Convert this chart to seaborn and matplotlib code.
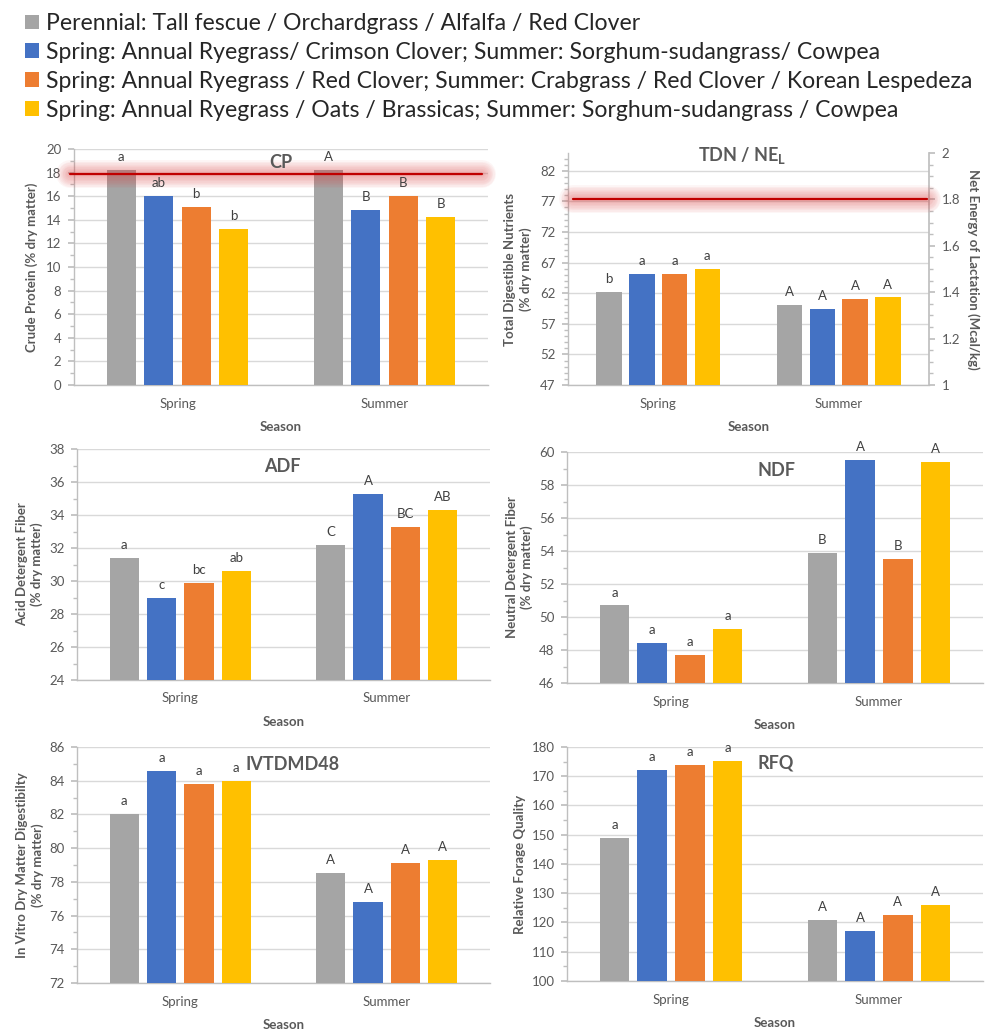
import numpy as np
import pandas as pd
import seaborn as sns
import matplotlib.pyplot as plt
from matplotlib.patches import Patch
from matplotlib.ticker import MultipleLocator, FixedLocator
import matplotlib.transforms as mtransforms

# ---------------- data ----------------
seasons = ["Spring", "Summer"]
mixtures = [
    "Perennial: Tall fescue / Orchardgrass / Alfalfa / Red Clover",
    "Spring: Annual Ryegrass/ Crimson Clover; Summer: Sorghum-sudangrass/ Cowpea",
    "Spring: Annual Ryegrass / Red Clover; Summer: Crabgrass / Red Clover / Korean Lespedeza",
    "Spring: Annual Ryegrass / Oats / Brassicas; Summer: Sorghum-sudangrass / Cowpea",
]
colors = ["#A5A5A5", "#4472C4", "#ED7D31", "#FFC000"]

cp_spring = [18.2, 16.0, 15.1, 13.2]
cp_summer = [18.2, 14.8, 16.0, 14.2]
cp_letters_spring = ["a", "ab", "b", "b"]
cp_letters_summer = ["A", "B", "B", "B"]
cp_target = 17.9

tdn_spring = [62.2, 65.2, 65.2, 65.9]
tdn_summer = [60.1, 59.4, 61.0, 61.3]
tdn_letters_spring = ["b", "a", "a", "a"]
tdn_letters_summer = ["A", "A", "A", "A"]
tdn_ticks = [47, 52, 57, 62, 67, 72, 77, 82]
nel_target = 1.8

adf_spring = [31.4, 29.0, 29.9, 30.6]
adf_summer = [32.2, 35.3, 33.3, 34.3]
adf_letters_spring = ["a", "c", "bc", "ab"]
adf_letters_summer = ["C", "A", "BC", "AB"]

ndf_spring = [50.7, 48.4, 47.7, 49.3]
ndf_summer = [53.9, 59.5, 53.5, 59.4]
ndf_letters_spring = ["a", "a", "a", "a"]
ndf_letters_summer = ["B", "A", "B", "A"]

ivd_spring = [82.0, 84.6, 83.8, 84.0]
ivd_summer = [78.5, 76.8, 79.1, 79.3]
ivd_letters_spring = ["a", "a", "a", "a"]
ivd_letters_summer = ["A", "A", "A", "A"]

rfq_spring = [148.9, 172.3, 173.8, 175.3]
rfq_summer = [121.0, 117.2, 122.6, 126.0]
rfq_letters_spring = ["a", "a", "a", "a"]
rfq_letters_summer = ["A", "A", "A", "A"]

# ---------------- style ----------------
sns.set_theme(style="white")
plt.rcParams["font.family"] = ["Lato", "DejaVu Sans"]
plt.rcParams["mathtext.fontset"] = "custom"
plt.rcParams["mathtext.rm"] = "Lato"
plt.rcParams["mathtext.bf"] = "Lato:bold"

TEXT = "#595959"
GRID = "#D9D9D9"
AXIS = "#BFBFBF"

W, H = 987, 1029
fig = plt.figure(figsize=(W / 100, H / 100), dpi=100)
fig.patch.set_facecolor("white")


def px_rect(x0, y0, x1, y1):
    return [x0 / W, 1 - y1 / H, (x1 - x0) / W, (y1 - y0) / H]


def glow_line(ax, y, x0, x1):
    """Target line with a soft red halo."""
    trans = mtransforms.blended_transform_factory(ax.transAxes, ax.transData)
    for lw in np.arange(20, 1, -2):
        ax.plot([x0, x1], [y, y], transform=trans, color="#E04040", lw=lw,
                alpha=0.05, solid_capstyle="round", clip_on=False, zorder=5)
    ax.plot([x0, x1], [y, y], transform=trans, color="#C00000", lw=1.6,
            clip_on=False, zorder=6)


def panel(box, spring, summer, let_sp, let_su, ylim, major, minor, ylabel,
          title, title_xy, title_size=13):
    ax = fig.add_axes(px_rect(*box))
    df = pd.DataFrame({
        "Season": np.repeat(seasons, len(mixtures)),
        "Mixture": mixtures * 2,
        "Value": list(spring) + list(summer),
    })
    sns.barplot(data=df, x="Season", y="Value", hue="Mixture",
                hue_order=mixtures, palette=colors, width=0.725, gap=0.22,
                saturation=1, errorbar=None, legend=False, ax=ax,
                edgecolor="none", zorder=3)
    ax.set_xlim(-0.5, 1.5)
    ax.set_ylim(*ylim)
    if np.ndim(major):
        ax.yaxis.set_major_locator(FixedLocator(major))
    else:
        ax.yaxis.set_major_locator(MultipleLocator(major))
    ax.yaxis.set_minor_locator(MultipleLocator(minor))
    ax.grid(axis="y", which="major", color=GRID, lw=1, zorder=0)
    ax.set_axisbelow(True)
    for s in ["top", "right"]:
        ax.spines[s].set_visible(False)
    ax.spines["left"].set_color(AXIS)
    ax.spines["bottom"].set_color(AXIS)
    ax.spines["left"].set_linewidth(1)
    ax.spines["bottom"].set_linewidth(1)
    ax.tick_params(axis="y", which="both", direction="out", color=AXIS,
                   labelcolor=TEXT, labelsize=9.5, left=True)
    ax.tick_params(axis="y", which="major", length=4, pad=5)
    ax.tick_params(axis="y", which="minor", length=3)
    ax.tick_params(axis="x", length=0, labelcolor=TEXT, labelsize=9.5, pad=9)
    ax.set_xlabel("Season", fontsize=9.5, fontweight="bold", color=TEXT,
                  labelpad=8)
    ax.set_ylabel(ylabel, fontsize=9.5, fontweight="bold", color=TEXT,
                  linespacing=1.25)
    for cont, a, b in zip(ax.containers, let_sp, let_su):
        ax.bar_label(cont, labels=[a, b], padding=5, fontsize=9.5,
                     color="#404040", zorder=7)
    fig.text(title_xy[0] / W, 1 - title_xy[1] / H, title, ha="center",
             va="center", fontsize=title_size, fontweight="bold", color=TEXT)
    return ax


# Crude protein
ax_cp = panel((74, 149, 488, 385), cp_spring, cp_summer, cp_letters_spring,
              cp_letters_summer, (0, 20), 2, 1,
              "Crude Protein (% dry matter)", "CP", (281, 163))
ax_cp.yaxis.labelpad = 6
glow_line(ax_cp, cp_target, -0.01, 0.985)

# TDN / NEL with secondary axis
ax_tdn = panel((568, 153, 929, 385), tdn_spring, tdn_summer,
               tdn_letters_spring, tdn_letters_summer, (47, 84.9), tdn_ticks,
               1, "Total Digestible Nutrients\n(% dry matter)",
               "TDN / NE$_\\mathbf{L}$", (742, 155))
ax_tdn.yaxis.labelpad = 6
ax_ne = ax_tdn.twinx()
ax_ne.set_ylim(1, 2)
ax_ne.yaxis.set_major_locator(MultipleLocator(0.2))
ax_ne.yaxis.set_minor_locator(MultipleLocator(0.05))
for s in ["top", "left", "bottom"]:
    ax_ne.spines[s].set_visible(False)
ax_ne.spines["right"].set_color(AXIS)
ax_ne.tick_params(axis="y", which="both", direction="out", color=AXIS,
                  labelcolor=TEXT, labelsize=9.5, right=True)
ax_ne.tick_params(axis="y", which="major", length=4, pad=5)
ax_ne.tick_params(axis="y", which="minor", length=3)
ax_ne.yaxis.set_major_formatter(plt.FuncFormatter(lambda v, p: f"{v:g}"))
ax_ne.set_ylabel("Net Energy of Lactation (Mcal/kg)", rotation=270,
                 fontsize=9.5, fontweight="bold", color=TEXT, labelpad=14)
glow_line(ax_ne, nel_target, 0.015, 0.995)

# ADF
ax_adf = panel((77, 449, 490, 680), adf_spring, adf_summer,
               adf_letters_spring, adf_letters_summer, (24, 38), 2, 1,
               "Acid Detergent Fiber\n(% dry matter)", "ADF", (282, 467))

# NDF
ax_ndf = panel((567, 452, 983, 683), ndf_spring, ndf_summer,
               ndf_letters_spring, ndf_letters_summer, (46, 60), 2, 1,
               "Neutral Detergent Fiber\n(% dry matter)", "NDF", (777, 470))

# IVTDMD48
ax_ivd = panel((77, 747, 490, 983), ivd_spring, ivd_summer,
               ivd_letters_spring, ivd_letters_summer, (72, 86), 2, 1,
               "In Vitro Dry Matter Digestibilty\n(% dry matter)",
               "IVTDMD48", (293, 765))

# RFQ
ax_rfq = panel((567, 747, 983, 981), rfq_spring, rfq_summer,
               rfq_letters_spring, rfq_letters_summer, (100, 180), 10, 5,
               "Relative Forage Quality", "RFQ", (776, 763))

# shared legend
handles = [Patch(facecolor=c, edgecolor="none") for c in colors]
fig.legend(handles, mixtures, loc="upper left",
           bbox_to_anchor=(25 / W, 1 - 13 / H), frameon=False, fontsize=16.6,
           handlelength=0.6, handleheight=0.6, handletextpad=0.3,
           labelspacing=0.34, borderaxespad=0, borderpad=0)

fig.savefig("out.png", dpi=100, facecolor="white")
